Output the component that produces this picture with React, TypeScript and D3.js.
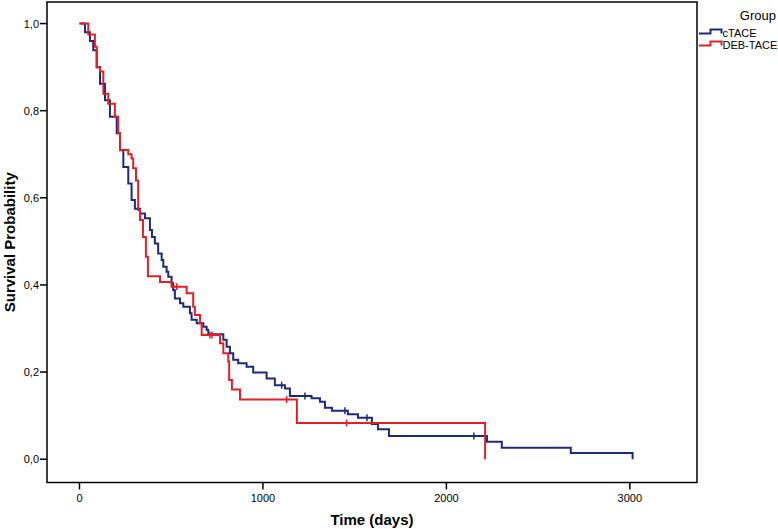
import React from 'react';
import * as d3 from 'd3';

// Kaplan-Meier steps (day of event, survival after it)
const cTaceDays = [0, 30, 57, 75, 94, 112, 139, 166, 203, 221, 239, 266, 284, 302, 330, 357, 384, 395, 411, 429, 448, 457, 475, 484, 502, 511, 520, 548, 566, 602, 611, 639, 675, 693, 702, 784, 802, 820, 838, 865, 911, 947, 1020, 1065, 1120, 1147, 1265, 1311, 1338, 1376, 1463, 1518, 1594, 1627, 1687, 2221, 2302, 2678, 3015];
const cTaceSurv = [1, 0.98, 0.96, 0.939, 0.9, 0.862, 0.824, 0.786, 0.748, 0.709, 0.671, 0.633, 0.595, 0.575, 0.564, 0.553, 0.526, 0.51, 0.495, 0.472, 0.457, 0.442, 0.43, 0.419, 0.404, 0.388, 0.369, 0.358, 0.35, 0.335, 0.32, 0.312, 0.304, 0.297, 0.287, 0.274, 0.258, 0.243, 0.228, 0.22, 0.212, 0.199, 0.185, 0.17, 0.162, 0.145, 0.14, 0.132, 0.118, 0.111, 0.103, 0.095, 0.081, 0.069, 0.053, 0.04, 0.026, 0.014, 0];
const cTaceCensored = [1102, 1229, 1447, 1567, 2150];

const debDays = [0, 48, 84, 94, 112, 130, 157, 193, 211, 221, 266, 284, 293, 308, 320, 330, 346, 362, 373, 439, 502, 584, 620, 629, 657, 666, 766, 784, 811, 816, 831, 875, 1185, 2211];
const debSurv = [1, 0.975, 0.947, 0.9, 0.89, 0.839, 0.816, 0.786, 0.748, 0.71, 0.7, 0.69, 0.668, 0.64, 0.572, 0.549, 0.51, 0.465, 0.42, 0.407, 0.396, 0.381, 0.35, 0.331, 0.312, 0.285, 0.266, 0.243, 0.224, 0.182, 0.16, 0.137, 0.083, 0];
const debCensored = [530, 711, 722, 1129, 1456];

const xTicks = [0, 1000, 2000, 3000];
const yTicks = [0, 0.2, 0.4, 0.6, 0.8, 1.0];

const groups = [
  { name: 'cTACE', color: '#1c2a7c', days: cTaceDays, surv: cTaceSurv, censored: cTaceCensored },
  { name: 'DEB-TACE', color: '#e41e26', days: debDays, surv: debSurv, censored: debCensored },
];

const W = 778;
const H = 529;
const plot = { left: 47, right: 697, top: 2, bottom: 482.5 };
const FONT = '"Liberation Sans", Arial, sans-serif';

export default function App() {
  const x = d3.scaleLinear().domain([-177, 3366]).range([plot.left, plot.right]);
  const y = d3.scaleLinear().domain([-0.0535, 1.0495]).range([plot.bottom, plot.top]);

  const line = d3
    .line<[number, number]>()
    .x((d) => x(d[0]))
    .y((d) => y(d[1]))
    .curve(d3.curveStepAfter);

  // survival value at a given day (step function)
  const survAt = (days: number[], surv: number[], t: number) => {
    const i = d3.bisectRight(days, t) - 1;
    return surv[Math.max(0, i)];
  };

  return (
    <svg width={W} height={H} style={{ position: 'absolute', left: 0, top: 0, background: '#fff' }}>
      <rect x={0} y={0} width={W} height={H} fill="#fff" />

      {/* curves */}
      {groups.map((g) => (
        <g key={g.name}>
          <path
            d={line(g.days.map((d, i) => [d, g.surv[i]] as [number, number])) || ''}
            fill="none"
            stroke={g.color}
            strokeWidth={2}
          />
          {g.censored.map((c) => {
            const cy = y(survAt(g.days, g.surv, c));
            return (
              <line key={c} x1={x(c)} x2={x(c)} y1={cy - 3.5} y2={cy + 3.5} stroke={g.color} strokeWidth={1.5} />
            );
          })}
        </g>
      ))}

      {/* frame */}
      <rect
        x={plot.left}
        y={plot.top}
        width={plot.right - plot.left}
        height={plot.bottom - plot.top}
        fill="none"
        stroke="#000"
        strokeWidth={1.5}
      />

      {/* y axis */}
      {yTicks.map((t) => (
        <g key={t}>
          <line x1={plot.left - 7} x2={plot.left} y1={y(t)} y2={y(t)} stroke="#000" strokeWidth={1.5} />
          <text x={plot.left - 8} y={y(t) + 4} textAnchor="end" fontFamily={FONT} fontSize={11} fill="#000">
            {d3.format('.1f')(t).replace('.', ',')}
          </text>
        </g>
      ))}

      {/* x axis */}
      {xTicks.map((t) => (
        <g key={t}>
          <line x1={x(t)} x2={x(t)} y1={plot.bottom} y2={plot.bottom + 7} stroke="#000" strokeWidth={1.5} />
          <text x={x(t)} y={plot.bottom + 19} textAnchor="middle" fontFamily={FONT} fontSize={11} fill="#000">
            {t}
          </text>
        </g>
      ))}

      {/* axis titles */}
      <text
        x={(plot.left + plot.right) / 2}
        y={525}
        textAnchor="middle"
        fontFamily={FONT}
        fontSize={15}
        fontWeight="bold"
        fill="#000"
      >
        Time (days)
      </text>
      <text
        transform={`translate(15, ${(plot.top + plot.bottom) / 2}) rotate(-90)`}
        textAnchor="middle"
        fontFamily={FONT}
        fontSize={15}
        fontWeight="bold"
        fill="#000"
      >
        Survival Probability
      </text>

      {/* legend */}
      <text x={776} y={20} textAnchor="end" fontFamily={FONT} fontSize={13} fill="#000">
        Group
      </text>
      {groups.map((g, i) => {
        const base = 33.5 + i * 12;
        return (
          <g key={g.name}>
            <path
              d={`M699,${base} H710.5 V${base - 4} H721.5 V${base}`}
              fill="none"
              stroke={g.color}
              strokeWidth={2}
            />
            <text x={722.5} y={base + 3.5} fontFamily={FONT} fontSize={11} fill="#000">
              {g.name}
            </text>
          </g>
        );
      })}
    </svg>
  );
}
